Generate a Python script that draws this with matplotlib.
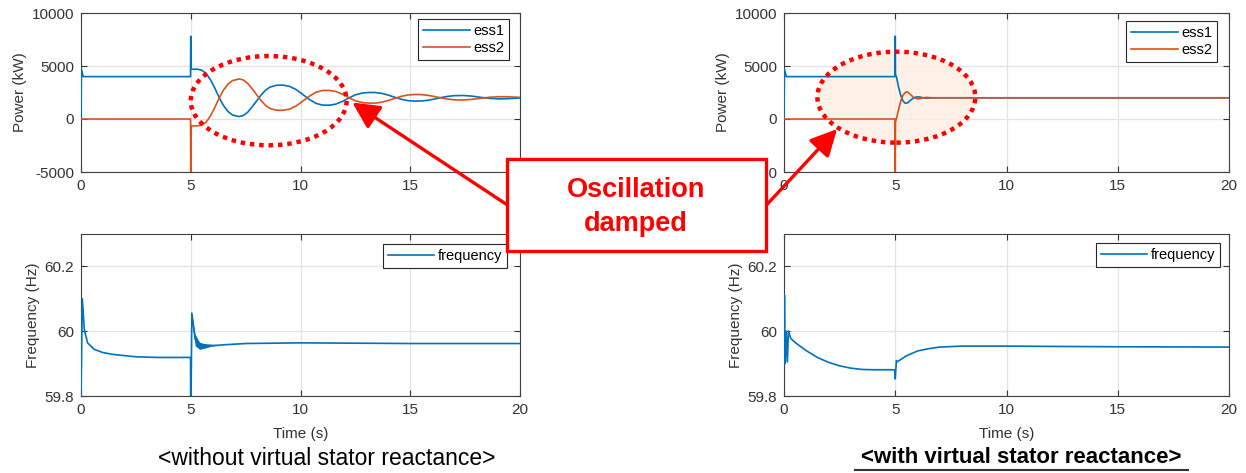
import matplotlib
matplotlib.use("Agg")
import matplotlib.pyplot as plt
from matplotlib.patches import Ellipse, Rectangle, FancyArrowPatch
from matplotlib.lines import Line2D

plt.rcParams['font.family'] = ['Liberation Sans', 'DejaVu Sans']
plt.rcParams['axes.unicode_minus'] = False

# ---- data (time in s, power in kW, frequency in Hz) ----
# without virtual stator reactance
t_p_wo = [0, 0.02, 0.1, 4.99, 5.0, 5.02, 5.1, 5.3, 5.5, 5.7, 5.9, 6.1, 6.3, 6.5, 6.7, 6.9,
          7.2, 7.4, 7.6, 7.8, 8.0, 8.2, 8.4, 8.6, 8.9, 9.2, 9.5, 9.8, 10.1, 10.4, 10.7,
          11.0, 11.3, 11.6, 11.9, 12.2, 12.5, 12.8, 13.1, 13.4, 13.7, 14.0, 14.3, 14.6,
          14.9, 15.2, 15.5, 15.8, 16.1, 16.4, 16.7, 17.0, 17.4, 17.8, 18.2, 18.6, 19.0,
          19.4, 19.8, 20.0]
ess1_wo = [0, 4700, 4000, 4000, 7800, 4700, 4700, 4700, 4600, 4300, 3700, 2900, 2000, 1250, 700, 380,
           230, 330, 650, 1150, 1700, 2250, 2700, 3000, 3180, 3200, 3080, 2780, 2320, 1850, 1480,
           1310, 1300, 1400, 1650, 1980, 2280, 2440, 2500, 2500, 2420, 2250, 2050, 1860,
           1730, 1690, 1700, 1760, 1880, 2020, 2130, 2200, 2220, 2160, 2050, 1950, 1900,
           1910, 1960, 1980]
ess2_wo = [0, 0, 0, 0, -5200, -650, -650, -650, -580, -300, 300, 1100, 2000, 2750, 3300, 3620,
           3780, 3680, 3350, 2850, 2300, 1750, 1300, 1000, 830, 820, 930, 1230, 1680, 2150, 2520,
           2690, 2700, 2600, 2350, 2020, 1720, 1560, 1500, 1500, 1580, 1750, 1950, 2140,
           2270, 2310, 2300, 2240, 2120, 1990, 1880, 1810, 1790, 1850, 1950, 2050, 2100,
           2100, 2060, 2040]

t_f_wo = [0, 0.0, 0.06, 0.15, 0.3, 0.6, 1.0, 1.5, 2.5, 3.5, 4.99, 5.0, 5.05, 5.2, 5.5,
          6.0, 6.5, 7.5, 10.0, 15.0, 20.0]
freq_wo = [59.7, 59.8, 60.10, 60.005, 59.964, 59.944, 59.934, 59.928, 59.921, 59.919, 59.919,
           59.7, 60.056, 59.975, 59.955, 59.955, 59.958, 59.962, 59.964, 59.962, 59.962]
# fast oscillation band right after the 5 s step
t_band_wo = [5.05, 5.2, 5.4, 5.6, 5.8, 6.0, 6.3]
band_hi_wo = [60.05, 59.99, 59.966, 59.962, 59.961, 59.960, 59.959]
band_lo_wo = [60.04, 59.955, 59.944, 59.947, 59.951, 59.955, 59.957]

# with virtual stator reactance
t_p_w = [0, 0.02, 0.1, 4.99, 5.0, 5.01, 5.05, 5.15, 5.25, 5.35, 5.45, 5.55, 5.65, 5.8,
         5.95, 6.1, 6.25, 6.4, 6.6, 6.8, 20.0]
ess1_w = [0, 4700, 4000, 4000, 7800, 4200, 4000, 3000, 2200, 1700, 1480, 1520, 1700, 1950,
          2080, 2080, 2000, 1960, 1990, 2000, 2000]
ess2_w = [0, 0, 0, 0, -5200, -300, 0, 900, 1700, 2250, 2500, 2560, 2380, 2080,
          1920, 1910, 2000, 2040, 2010, 2000, 2000]

t_f_w = [0, 0.02, 0.05, 0.1, 0.15, 0.2, 0.3, 0.5, 1.0, 1.5, 2.0, 2.5, 3.0, 3.5, 4.0, 4.99,
         5.0, 5.05, 5.1, 5.5, 6.0, 6.5, 7.0, 8.0, 10.0, 12.0, 15.0, 20.0]
freq_w = [59.9, 60.112, 59.9, 60.0, 59.905, 60.0, 59.978, 59.965, 59.94, 59.919, 59.904,
          59.893, 59.886, 59.882, 59.881, 59.881, 59.853, 59.909, 59.906, 59.924, 59.939,
          59.946, 59.951, 59.954, 59.954, 59.953, 59.952, 59.951]

time_ticks = [0, 5, 10, 15, 20]
power_ticks = [-5000, 0, 5000, 10000]
freq_ticks = [59.8, 60.0, 60.2]
freq_ticklabels = ['59.8', '60', '60.2']

c1 = '#0072BD'
c2 = '#D95319'
grey = '#333333'
W, H = 1246, 473


def px(x0, y0, x1, y1):
    # pixel box (top-left origin) -> figure fraction rect
    return [x0 / W, 1 - y1 / H, (x1 - x0) / W, (y1 - y0) / H]


def fpt(x, y):
    return (x / W, 1 - y / H)


def style(ax):
    ax.set_xlim(0, 20)
    ax.set_xticks(time_ticks)
    ax.grid(True, color='#e3e3e3', lw=0.9)
    ax.set_axisbelow(True)
    ax.tick_params(direction='in', top=True, right=True, length=4, width=0.8,
                   colors=grey, labelsize=11, pad=5)
    for s in ax.spines.values():
        s.set_color('#404040')
        s.set_linewidth(0.8)


def add_legend(ax, dx, dy):
    # dx, dy: gap in pixels between legend box and the axes' top-right corner
    bb = ax.get_position()
    anchor = (1 - dx / (bb.width * W), 1 - dy / (bb.height * H))
    leg = ax.legend(loc='upper right', bbox_to_anchor=anchor, borderaxespad=0,
                    fancybox=False, framealpha=1, edgecolor='#262626', fontsize=10.5,
                    handlelength=3.2, handletextpad=0.2, borderpad=0.35, labelspacing=0.2)
    leg.get_frame().set_linewidth(0.8)


fig = plt.figure(figsize=(W / 100, H / 100), dpi=100)
ax1 = fig.add_axes(px(81, 13, 520, 172))
ax2 = fig.add_axes(px(81, 234, 520, 396))
ax3 = fig.add_axes(px(784, 13, 1229, 172))
ax4 = fig.add_axes(px(784, 234, 1229, 396))

for ax, t, e1, e2, gap in [(ax1, t_p_wo, ess1_wo, ess2_wo, (11, 6)),
                           (ax3, t_p_w, ess1_w, ess2_w, (12, 8))]:
    style(ax)
    ax.plot(t, e1, color=c1, lw=1.2, label='ess1', zorder=3)
    ax.plot(t, e2, color=c2, lw=1.2, label='ess2', zorder=3)
    ax.set_ylim(-5000, 10000)
    ax.set_yticks(power_ticks)
    ax.set_ylabel('Power (kW)', color=grey, fontsize=11, labelpad=3)
    add_legend(ax, *gap)

for ax, t, f, gap in [(ax2, t_f_wo, freq_wo, (13, 10)), (ax4, t_f_w, freq_w, (9, 9))]:
    style(ax)
    ax.plot(t, f, color=c1, lw=1.2, label='frequency', zorder=3)
    ax.set_ylim(59.8, 60.3)
    ax.set_yticks(freq_ticks)
    ax.set_yticklabels(freq_ticklabels)
    ax.set_ylabel('Frequency (Hz)', color=grey, fontsize=11, labelpad=3)
    ax.set_xlabel('Time (s)', color=grey, fontsize=11, labelpad=7)
    add_legend(ax, *gap)

ax2.fill_between(t_band_wo, band_lo_wo, band_hi_wo, color=c1, lw=0, zorder=3)

# highlight ellipses
ax1.add_patch(Ellipse((8.55, 1730), 7.1, 8420, fill=False, ec='#ff0000', lw=3.2,
                      ls=(0, (1, 1.1)), zorder=6))
ax3.add_patch(Ellipse((5.05, 2060), 7.1, 8580, fc='#fdeee2', ec='none', alpha=0.8, zorder=1.5))
ax3.add_patch(Ellipse((5.05, 2060), 7.1, 8580, fill=False, ec='#ff0000', lw=3.2,
                      ls=(0, (1, 1.1)), zorder=6))

# arrows (figure pixels)
for tail, tip in [((515, 210), (350, 101)), ((760, 212), (839, 127))]:
    fig.add_artist(FancyArrowPatch(fpt(*tail), fpt(*tip), transform=fig.transFigure,
                                   arrowstyle='-|>,head_length=0.9,head_width=0.45',
                                   mutation_scale=18, color='#ff0000', lw=2.4, zorder=8))

r = px(507, 159, 766, 251)
fig.add_artist(Rectangle((r[0], r[1]), r[2], r[3], transform=fig.transFigure,
                         fc='white', ec='#ff0000', lw=2.4, zorder=9))
fig.text(636 / W, 1 - 207 / H, 'Oscillation\ndamped', ha='center', va='center',
         color='#ff0000', fontsize=19.5, fontweight='bold', linespacing=1.4, zorder=10)

fig.text(327 / W, 1 - 458 / H, '<without virtual stator reactance>', ha='center', va='center',
         fontsize=16.5, color='black')
fig.text(1021 / W, 1 - 457 / H, '<with virtual stator reactance>', ha='center', va='center',
         fontsize=16, fontweight='bold', color='black')
fig.add_artist(Line2D([855 / W, 1188 / W], [1 - 470 / H, 1 - 470 / H], transform=fig.transFigure,
                      color='#333333', lw=1.5))

fig.savefig('out.png', dpi=100)
